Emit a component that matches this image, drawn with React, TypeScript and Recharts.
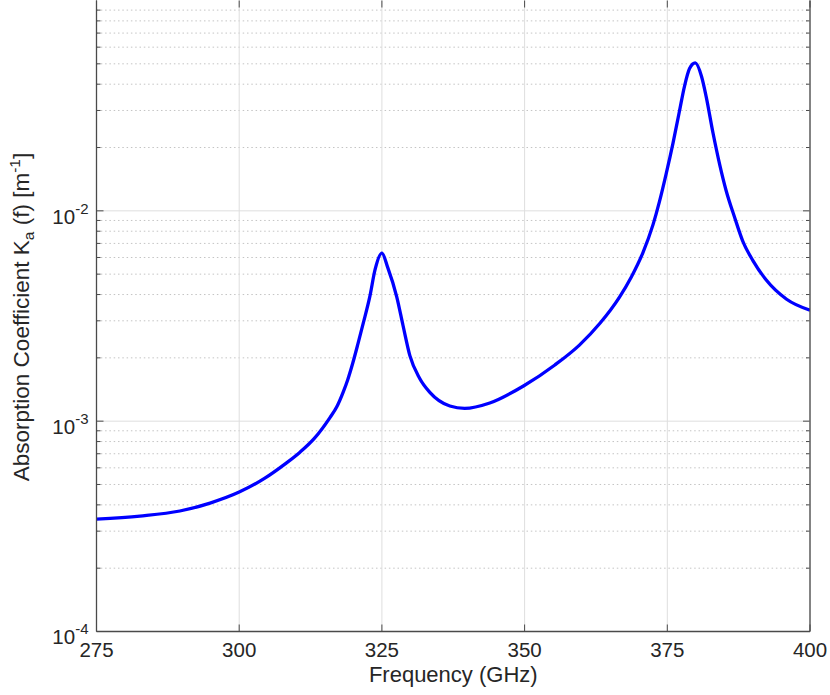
import React from "react";
import { LineChart, Line, XAxis, YAxis, ReferenceLine, Label } from "recharts";

const FREQ = [275, 282.6, 289.6, 294.9, 300, 304.5, 308, 310.6, 313.2, 315.9, 317.1, 318.2, 319.0, 319.9, 320.8, 321.7, 322.9, 323.8, 325.0, 326.0, 327.6, 328.7, 329.9, 331.6, 333.4, 336.9, 339.5, 343.9, 349.8, 355.3, 359.6, 363.2, 366.6, 368.7, 370.7, 372.5, 373.6, 374.8, 376.0, 377.1, 378.0, 378.9, 379.9, 381.0, 381.8, 383.0, 384.2, 385.3, 386.8, 388.2, 390.0, 392.3, 395.9, 400];
const KA = [3.42e-4, 3.54e-4, 3.74e-4, 4.08e-4, 4.6e-4, 5.36e-4, 6.25e-4, 7.1e-4, 8.3e-4, 1.04e-3, 1.17e-3, 1.37e-3, 1.57e-3, 1.89e-3, 2.33e-3, 2.9e-3, 3.93e-3, 5.25e-3, 6.3e-3, 5.4e-3, 3.9e-3, 2.85e-3, 2.05e-3, 1.6e-3, 1.37e-3, 1.18e-3, 1.15e-3, 1.22e-3, 1.47e-3, 1.85e-3, 2.3e-3, 2.92e-3, 3.88e-3, 4.85e-3, 6.3e-3, 8.6e-3, 1.1e-2, 1.5e-2, 2.1e-2, 2.95e-2, 3.9e-2, 4.75e-2, 5.05e-2, 4.35e-2, 3.5e-2, 2.35e-2, 1.65e-2, 1.25e-2, 9.3e-3, 7.2e-3, 5.8e-3, 4.7e-3, 3.8e-3, 3.37e-3];

const X_TICKS = [275, 300, 325, 350, 375, 400];
const Y_MAJOR = [1e-4, 1e-3, 1e-2];
const Y_MINOR = [2e-4, 3e-4, 4e-4, 5e-4, 6e-4, 7e-4, 8e-4, 9e-4, 2e-3, 3e-3, 4e-3, 5e-3, 6e-3, 7e-3, 8e-3, 9e-3, 2e-2, 3e-2, 4e-2, 5e-2, 6e-2, 7e-2, 8e-2, 9e-2];
const Y_DOMAIN = [1e-4, 1e-1];
const X_LABEL = "Frequency (GHz)";

const data = FREQ.map((f, i) => ({ f, ka: KA[i] }));

const FONT = "'Liberation Sans', Arial, Helvetica, sans-serif";
const TXT = "#262626";
const AX = "#4a4a4a";

const XTick = (props: any) => {
  const { x, y, payload } = props;
  return (
    <text x={x} y={y + 25.5} textAnchor="middle" fill={TXT} fontFamily={FONT} fontSize={20.5}>
      {payload.value}
    </text>
  );
};

const YTick = (props: any) => {
  const { x, y, payload } = props;
  const e = Math.round(Math.log10(payload.value));
  return (
    <text x={x - 8} y={y + 12.7} textAnchor="end" fill={TXT} fontFamily={FONT} fontSize={20.5}>
      <tspan>10</tspan>
      <tspan dy={-10} fontSize={15}>{String(e)}</tspan>
    </text>
  );
};

const YLabel = (props: any) => {
  const vb = props.viewBox || { x: 0, y: 0, width: 96.5, height: 631 };
  const cx = vb.x + 29;
  const cy = vb.y + vb.height / 2 + 1;
  return (
    <text x={cx} y={cy} transform={`rotate(-90, ${cx}, ${cy})`} textAnchor="middle" fill={TXT} fontFamily={FONT} fontSize={22.5}>
      <tspan>Absorption Coefficient K</tspan>
      <tspan dy={5} fontSize={15.5}>a</tspan>
      <tspan dy={-5}>{" (f) [m"}</tspan>
      <tspan dy={-9} fontSize={15.5}>-1</tspan>
      <tspan dy={9}>]</tspan>
    </text>
  );
};

const XLabel = (props: any) => {
  const vb = props.viewBox || { x: 96.5, y: 631.5, width: 713.5, height: 63.5 };
  return (
    <text x={vb.x + vb.width / 2} y={vb.y + 50.5} textAnchor="middle" fill={TXT} fontFamily={FONT} fontSize={22}>
      {X_LABEL}
    </text>
  );
};

// horizontal gridline with inward ticks on both ends
const hGrid = (dotted: boolean, tick: number) => (p: any) => {
  const { x1, y1, x2, y2 } = p;
  if (x1 == null || y1 == null) return <g />;
  const left = Math.min(x1, x2);
  const right = Math.max(x1, x2);
  return (
    <g>
      <line x1={left} y1={y1} x2={right} y2={y2} stroke={dotted ? "#c4c4c4" : "#dedede"} strokeWidth={1} strokeDasharray={dotted ? "1.5 2.8" : undefined} />
      <line x1={left} y1={y1} x2={left + tick} y2={y1} stroke={AX} strokeWidth={1} />
      <line x1={right - tick} y1={y1} x2={right} y2={y1} stroke={AX} strokeWidth={1} />
    </g>
  );
};

// vertical gridline with inward ticks on both ends
const vGrid = (p: any) => {
  const { x1, y1, x2, y2 } = p;
  if (x1 == null || y1 == null) return <g />;
  const top = Math.min(y1, y2);
  const bottom = Math.max(y1, y2);
  return (
    <g>
      <line x1={x1} y1={top} x2={x2} y2={bottom} stroke="#dedede" strokeWidth={1} />
      <line x1={x1} y1={bottom - 7} x2={x1} y2={bottom} stroke={AX} strokeWidth={1} />
      <line x1={x1} y1={top} x2={x1} y2={top + 7} stroke={AX} strokeWidth={1} />
    </g>
  );
};

export default function App() {
  return (
    <div style={{ position: "absolute", left: 0, top: 0, background: "#fff" }}>
      <LineChart width={830} height={695} data={data} margin={{ top: 0.5, right: 0, bottom: 0, left: 0 }}>
        <XAxis
          xAxisId="b"
          type="number"
          dataKey="f"
          domain={[275, 400]}
          ticks={X_TICKS}
          allowDataOverflow
          tickLine={false}
          tickSize={0}
          tickMargin={0}
          tick={<XTick />}
          axisLine={{ stroke: AX, strokeWidth: 1.3 }}
          height={63.5}
        >
          <Label content={<XLabel />} />
        </XAxis>
        <XAxis
          xAxisId="t"
          orientation="top"
          type="number"
          dataKey="f"
          domain={[275, 400]}
          ticks={X_TICKS}
          allowDataOverflow
          tick={false}
          tickLine={false}
          axisLine={{ stroke: "#9a9a9a", strokeWidth: 1.3 }}
          height={0}
        />
        <YAxis
          yAxisId="L"
          scale="log"
          type="number"
          domain={Y_DOMAIN}
          allowDataOverflow
          ticks={Y_MAJOR}
          tickLine={false}
          tickSize={0}
          tickMargin={0}
          tick={<YTick />}
          axisLine={{ stroke: AX, strokeWidth: 1.3 }}
          width={96.5}
        >
          <Label content={<YLabel />} />
        </YAxis>
        <YAxis
          yAxisId="R"
          orientation="right"
          scale="log"
          type="number"
          domain={Y_DOMAIN}
          allowDataOverflow
          ticks={Y_MAJOR}
          tick={false}
          tickLine={false}
          axisLine={{ stroke: AX, strokeWidth: 1.3 }}
          width={20}
        />
        {Y_MINOR.map((v) => (
          <ReferenceLine key={`mn${v}`} xAxisId="b" yAxisId="L" y={v} shape={hGrid(true, 4)} />
        ))}
        {Y_MAJOR.map((v) => (
          <ReferenceLine key={`mj${v}`} xAxisId="b" yAxisId="L" y={v} shape={hGrid(false, 7)} />
        ))}
        {X_TICKS.map((v) => (
          <ReferenceLine key={`x${v}`} xAxisId="b" yAxisId="L" x={v} shape={vGrid} />
        ))}
        <Line
          xAxisId="b"
          yAxisId="L"
          type="monotone"
          dataKey="ka"
          stroke="#0000ff"
          strokeWidth={3.3}
          dot={false}
          activeDot={false}
          isAnimationActive={false}
        />
      </LineChart>
    </div>
  );
}
